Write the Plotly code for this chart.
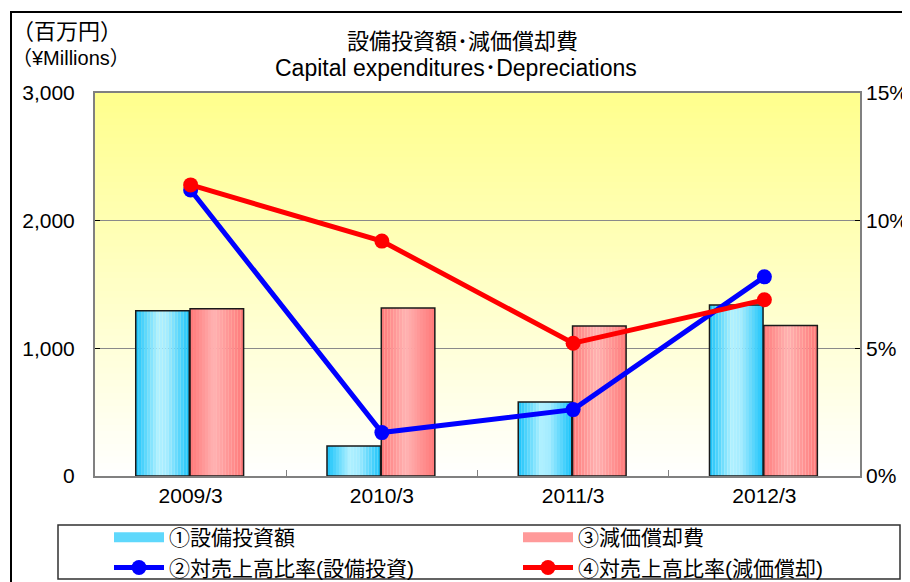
import plotly.graph_objects as go

# ---- data ----
categories = ["2009/3", "2010/3", "2011/3", "2012/3"]
capex = [1295, 235, 580, 1339]          # ①設備投資額 (百万円)
depreciation = [1310, 1315, 1175, 1178]  # ③減価償却費 (百万円)
capex_ratio = [11.2, 1.7, 2.6, 7.8]      # ②対売上高比率(設備投資) %
dep_ratio = [11.4, 9.2, 5.2, 6.9]        # ④対売上高比率(減価償却) %
left_ticks = [0, 1000, 2000, 3000]
right_ticks = [0, 5, 10, 15]
right_labels = ["0%", "5%", "10%", "15%"]

FONT = "Liberation Sans, Noto Sans CJK JP, sans-serif"

# The page body has an 8px margin, so the figure is drawn 8px in from the corner.
OFF = 8
W, H = 910 - OFF, 582 - OFF
# plot area in screen pixels: x 95..860, y 93..476
SX0, SX1, SY0, SY1 = 95, 860, 93, 476
L, T = SX0 - OFF, SY0 - OFF
R = W - (SX1 - OFF)
B = H - (SY1 - OFF)
PW, PH = SX1 - SX0, SY1 - SY0


def px(x):
    return (x - SX0) / PW


def py(y):
    return (SY1 - y) / PH


def cx(x):
    return (x - OFF) / W


def cy(y):
    return 1 - (y - OFF) / H


def lerp(c1, c2, t):
    return tuple(round(a + (b - a) * t) for a, b in zip(c1, c2))


def profile(stops, t):
    for (t0, c0), (t1, c1) in zip(stops, stops[1:]):
        if t0 <= t <= t1:
            return lerp(c0, c1, (t - t0) / (t1 - t0) if t1 > t0 else 0)
    return stops[-1][1]


blue_stops = [(0, (25, 195, 250)), (0.42, (175, 240, 255)), (0.58, (165, 236, 255)), (1, (25, 195, 250))]
red_stops = [(0, (255, 120, 120)), (0.45, (255, 178, 178)), (1, (255, 120, 120))]

fig = go.Figure()

N = 18
BW = 0.28
series = [
    (capex, -0.287, blue_stops, "①設備投資額"),
    (depreciation, -0.003, red_stops, "③減価償却費"),
]
for vals, off, stops, name in series:
    for i in range(N):
        t = (i + 0.5) / N
        c = profile(stops, t)
        fig.add_trace(go.Bar(
            x=categories, y=vals, width=BW / N + 0.0005, offset=off + i * BW / N,
            marker=dict(color="rgb(%d,%d,%d)" % c, line=dict(width=0)),
            showlegend=False, hoverinfo="skip", yaxis="y"))
    fig.add_trace(go.Bar(
        x=categories, y=vals, width=BW, offset=off, name=name,
        marker=dict(color="rgba(0,0,0,0)", line=dict(color="#1a1a1a", width=1.5)),
        showlegend=False, yaxis="y"))

# legend entries for bars (swatches)
fig.add_trace(go.Scatter(x=[None], y=[None], mode="lines", name="①設備投資額",
                         line=dict(color="#5fd8fc", width=12), legend="legend",
                         legendgroup="a", legendrank=1))
fig.add_trace(go.Scatter(x=[None], y=[None], mode="lines", name="③減価償却費",
                         line=dict(color="#ff9a9a", width=12), legend="legend2",
                         legendgroup="c", legendrank=1))

fig.add_trace(go.Scatter(
    x=categories, y=capex_ratio, yaxis="y2", mode="lines+markers",
    name="②対売上高比率(設備投資)", line=dict(color="#0000FF", width=5),
    marker=dict(size=15, color="#0000FF"), legend="legend", legendgroup="b", legendrank=2))
fig.add_trace(go.Scatter(
    x=categories, y=dep_ratio, yaxis="y2", mode="lines+markers",
    name="④対売上高比率(減価償却)", line=dict(color="#FF0000", width=5),
    marker=dict(size=15, color="#FF0000"), legend="legend2", legendgroup="d", legendrank=2))

# background gradient (yellow at top to white at bottom)
shapes = []
NS = 60
top = (255, 255, 140)
bot = (255, 255, 255)
for i in range(NS):
    c = lerp(bot, top, (i + 0.5) / NS)
    shapes.append(dict(type="rect", xref="paper", yref="paper", x0=0, x1=1,
                       y0=i / NS, y1=(i + 1) / NS + 0.002, layer="below",
                       line=dict(width=0), fillcolor="rgb(%d,%d,%d)" % c))
# legend box
shapes.append(dict(type="rect", xref="paper", yref="paper",
                   x0=px(58), x1=px(900), y0=py(579), y1=py(525),
                   line=dict(color="#303030", width=1.5), fillcolor="rgba(0,0,0,0)"))
# outer border
shapes.append(dict(type="rect", xref="paper", yref="paper",
                   x0=px(11), x1=px(905), y0=py(640), y1=py(12),
                   line=dict(color="#000000", width=2), fillcolor="rgba(0,0,0,0)"))

annotations = [
    dict(text="設備投資額･減価償却費", x=px(462), y=py(42), xref="paper", yref="paper",
         showarrow=False, font=dict(size=22, color="#000"), xanchor="center", yanchor="middle"),
    dict(text="Capital expenditures･Depreciations", x=px(456), y=py(68), xref="paper", yref="paper",
         showarrow=False, font=dict(size=23, color="#000"), xanchor="center", yanchor="middle"),
    dict(text="（百万円）", x=px(10), y=py(31), xref="paper", yref="paper",
         showarrow=False, font=dict(size=22, color="#000"), xanchor="left", yanchor="middle"),
    dict(text="（¥Millions）", x=px(10), y=py(58), xref="paper", yref="paper",
         showarrow=False, font=dict(size=20, color="#000"), xanchor="left", yanchor="middle"),
]

legend_common = dict(
    orientation="v", bgcolor="rgba(0,0,0,0)", borderwidth=0,
    font=dict(size=21, color="#000", family=FONT), itemwidth=50,
    tracegroupgap=0, xanchor="left", yanchor="top", itemclick=False,
    xref="container", yref="container",
)

fig.update_layout(
    width=W, height=H,
    margin=dict(l=L, r=R, t=T, b=B, autoexpand=False),
    paper_bgcolor="white", plot_bgcolor="white",
    font=dict(family=FONT, color="#000"),
    barmode="overlay",
    showlegend=True,
    legend=dict(x=cx(109), y=cy(517), **legend_common),
    legend2=dict(x=cx(518), y=cy(517), **legend_common),
    xaxis=dict(
        type="category", categoryorder="array", categoryarray=categories,
        range=[-0.5, 3.5], showline=True, linecolor="#808080", linewidth=2, mirror=True,
        ticks="inside", tickson="boundaries", ticklen=6, tickcolor="#808080",
        tickfont=dict(size=21), showgrid=False, zeroline=False, automargin=False,
    ),
    yaxis=dict(
        range=[0, 3000], tickvals=left_ticks, tickformat=",", showline=True,
        linecolor="#808080", linewidth=2, mirror=True, ticks="inside", ticklen=5,
        tickcolor="#000", tickfont=dict(size=21), showgrid=True, gridcolor="#8a8a8a",
        gridwidth=1, zeroline=False, ticklabelstandoff=14, automargin=False,
    ),
    yaxis2=dict(
        range=[0, 15], tickvals=right_ticks, ticktext=right_labels, overlaying="y", side="right",
        showline=False, ticks="inside", ticklen=5, tickcolor="#000",
        tickfont=dict(size=21), showgrid=False, zeroline=False, automargin=False,
        ticklabelstandoff=5,
    ),
    shapes=shapes,
    annotations=annotations,
)

fig.write_html("out.html")
